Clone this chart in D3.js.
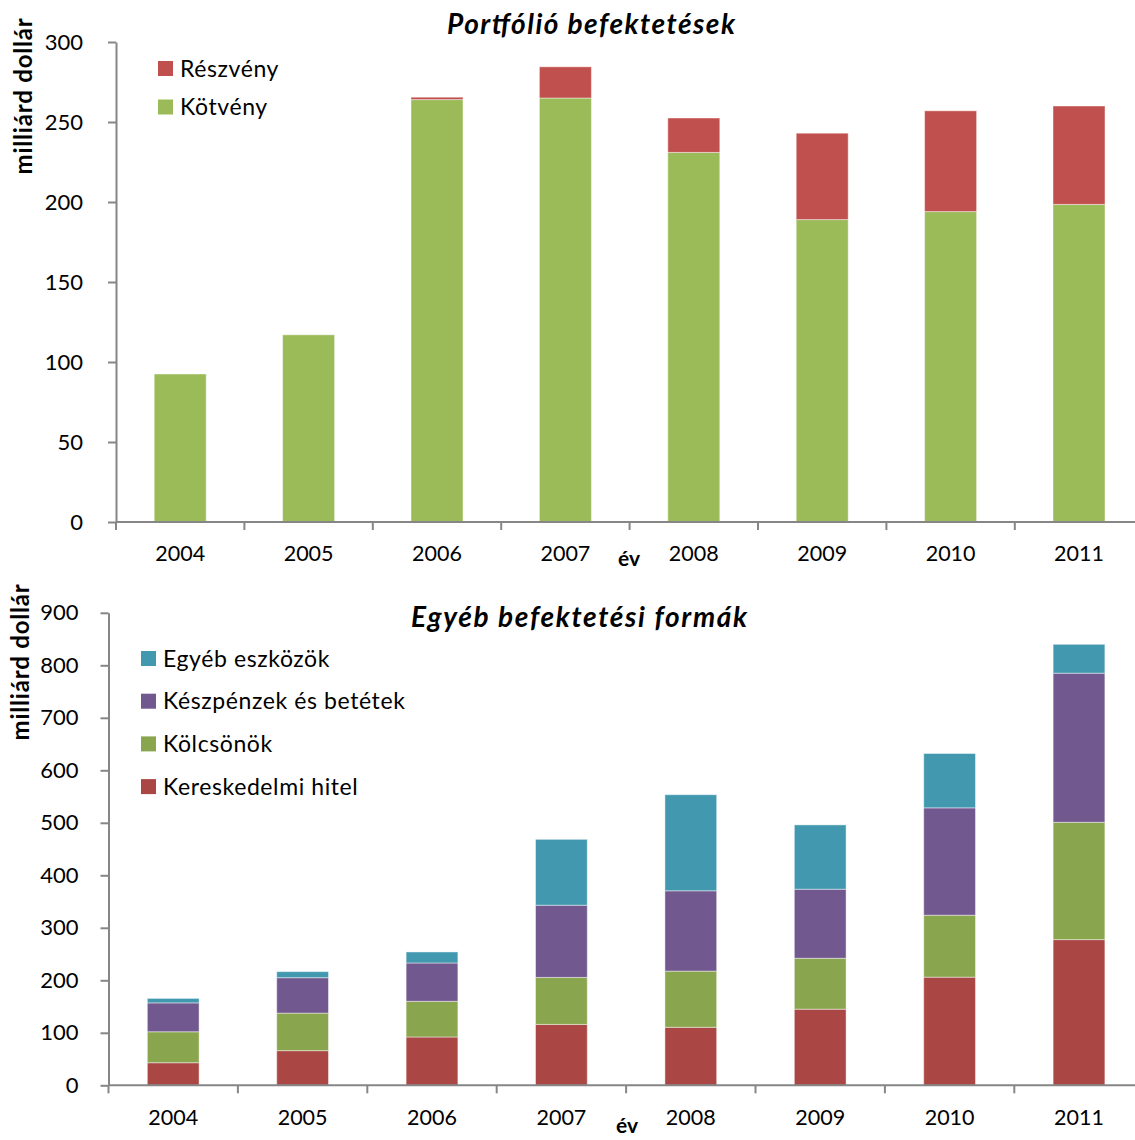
<!DOCTYPE html>
<html>
<head>
<meta charset="utf-8">
<script src="https://cdn.jsdelivr.net/npm/d3@7"></script>
<style>
  html, body { margin: 0; padding: 0; background: #fff; }
  svg { display: block; }
  text { font-family: Lato, "Open Sans", sans-serif; fill: #000; }
</style>
</head>
<body>
<svg id="chart" width="1135" height="1140"></svg>
<script>
// ---------- data ----------
const years = ["2004", "2005", "2006", "2007", "2008", "2009", "2010", "2011"];

// Portfólió befektetések (milliárd dollár)
const kotveny   = [92.5, 117, 264, 265, 231, 189, 194, 198.5];
const reszveny  = [0, 0, 1.5, 19.5, 21.5, 54, 63, 61.5];
const topTicks  = [0, 50, 100, 150, 200, 250, 300];

// Egyéb befektetési formák (milliárd dollár)
const kereskedelmiHitel = [43, 66, 92, 116, 110.5, 145, 206, 277.5];
const kolcsonok         = [59, 71.5, 68, 89.5, 107, 97, 118, 223.5];
const keszpenzek        = [55, 67.5, 73, 137.5, 153, 131.5, 204.5, 284];
const egyebEszkozok     = [8.5, 11.5, 21, 125.5, 183, 122.5, 103.5, 55];
const bottomTicks       = [0, 100, 200, 300, 400, 500, 600, 700, 800, 900];

const topSeries = [
  { name: "Kötvény",  values: kotveny,  color: "#9BBB59" },
  { name: "Részvény", values: reszveny, color: "#C0504D" }
];
const bottomSeries = [
  { name: "Kereskedelmi hitel",     values: kereskedelmiHitel, color: "#AA4643" },
  { name: "Kölcsönök",              values: kolcsonok,         color: "#89A54E" },
  { name: "Készpénzek és betétek",  values: keszpenzek,        color: "#71588F" },
  { name: "Egyéb eszközök",         values: egyebEszkozok,     color: "#4198AF" }
];

const svg = d3.select("#chart");
const AXIS = "#868686";

function drawChart(cfg) {
  const g = svg.append("g");
  const x = d3.scaleBand().domain(years)
    .range([cfg.left, cfg.right])
    .paddingInner(cfg.pad).paddingOuter(cfg.pad / 2);
  const y = d3.scaleLinear().domain([0, cfg.max]).range([cfg.bottom, cfg.top]);

  // stacked data
  const rows = years.map((yr, i) => {
    const o = { year: yr };
    cfg.series.forEach(s => o[s.name] = s.values[i]);
    return o;
  });
  const stack = d3.stack().keys(cfg.series.map(s => s.name))(rows);

  stack.forEach((layer, li) => {
    g.append("g").selectAll("rect").data(layer).join("rect")
      .attr("x", d => x(d.data.year))
      .attr("width", x.bandwidth())
      .attr("y", d => y(d[1]))
      .attr("height", d => Math.max(0, y(d[0]) - y(d[1])))
      .attr("fill", cfg.series[li].color)
      .attr("stroke", "rgba(255,255,255,0.45)")
      .attr("stroke-width", 1)
      .style("display", d => (d[1] - d[0]) > 0 ? null : "none");
  });

  // y axis
  const ya = g.append("g").attr("transform", `translate(${cfg.left},0)`)
    .call(d3.axisLeft(y).tickValues(cfg.ticks).tickSize(8).tickSizeOuter(0).tickPadding(cfg.tickPad));
  ya.select(".domain").attr("stroke", AXIS).attr("stroke-width", 2);
  ya.selectAll(".tick line").attr("stroke", AXIS).attr("stroke-width", 2);
  ya.selectAll(".tick text").style("font-size", "22px").style("font-family", "Lato, sans-serif").attr("fill", "#000");

  // x axis (labels at band centres, ticks at band edges)
  const xa = g.append("g").attr("transform", `translate(0,${cfg.bottom})`)
    .call(d3.axisBottom(x).tickSize(0).tickSizeOuter(0).tickPadding(cfg.xLabelPad));
  xa.select(".domain").remove();
  xa.selectAll(".tick text").style("font-size", "21.5px").style("font-family", "Lato, sans-serif").attr("fill", "#000");
  const half = (x.step() - x.bandwidth()) / 2;
  const edges = years.map(yr => x(yr) - half).concat([x(years[years.length - 1]) + x.bandwidth() + half]);
  g.append("line").attr("x1", cfg.left).attr("x2", cfg.right)
    .attr("y1", cfg.bottom).attr("y2", cfg.bottom)
    .attr("stroke", AXIS).attr("stroke-width", 2);
  g.append("g").selectAll("line").data(edges).join("line")
    .attr("x1", d => d).attr("x2", d => d)
    .attr("y1", cfg.bottom).attr("y2", cfg.bottom + 8)
    .attr("stroke", AXIS).attr("stroke-width", 2);

  // title
  g.append("text").attr("x", cfg.titleX).attr("y", cfg.titleY)
    .attr("text-anchor", "middle")
    .attr("textLength", cfg.titleWidth).attr("lengthAdjust", "spacing")
    .style("font-size", "28px").style("font-weight", "bold").style("font-style", "italic")
    .text(cfg.title);

  // y label
  g.append("text")
    .attr("transform", `translate(${cfg.yLabelX},${cfg.yLabelY}) rotate(-90)`)
    .attr("text-anchor", "middle")
    .style("font-size", "24px").style("font-weight", "bold").style("letter-spacing", "0.8px")
    .text("milliárd dollár");

  // x label
  g.append("text").attr("x", cfg.xLabelX).attr("y", cfg.xLabelY)
    .attr("text-anchor", "middle")
    .style("font-size", "21px").style("font-weight", "bold")
    .text("év");

  // legend
  const lg = g.append("g");
  cfg.legend.forEach((name, i) => {
    const s = cfg.series.find(d => d.name === name);
    const ly = cfg.legendY + i * cfg.legendStep;
    lg.append("rect").attr("x", cfg.legendX).attr("y", ly - 7.5)
      .attr("width", 15).attr("height", 15).attr("fill", s.color);
    lg.append("text").attr("x", cfg.legendX + 22).attr("y", ly).attr("dy", "0.35em")
      .style("font-size", "23px").style("letter-spacing", "0.6px").text(name);
  });
}

drawChart({
  series: topSeries, max: 300, ticks: topTicks,
  left: 116, right: 1143.2, top: 42, bottom: 522, pad: 0.595,
  tickPad: 25, xLabelPad: 24,
  title: "Portfólió befektetések", titleX: 591, titleY: 34, titleWidth: 288,
  yLabelX: 31.5, yLabelY: 96,
  xLabelX: 629, xLabelY: 566,
  legend: ["Részvény", "Kötvény"], legendX: 158, legendY: 68.5, legendStep: 38.5
});

drawChart({
  series: bottomSeries, max: 900, ticks: bottomTicks,
  left: 108.5, right: 1143.7, top: 612.8, bottom: 1085.3, pad: 0.6,
  tickPad: 22, xLabelPad: 24,
  title: "Egyéb befektetési formák", titleX: 579, titleY: 627, titleWidth: 336,
  yLabelX: 29, yLabelY: 662,
  xLabelX: 627, xLabelY: 1133,
  legend: ["Egyéb eszközök", "Készpénzek és betétek", "Kölcsönök", "Kereskedelmi hitel"],
  legendX: 141, legendY: 658.5, legendStep: 42.7
});
</script>
</body>
</html>
